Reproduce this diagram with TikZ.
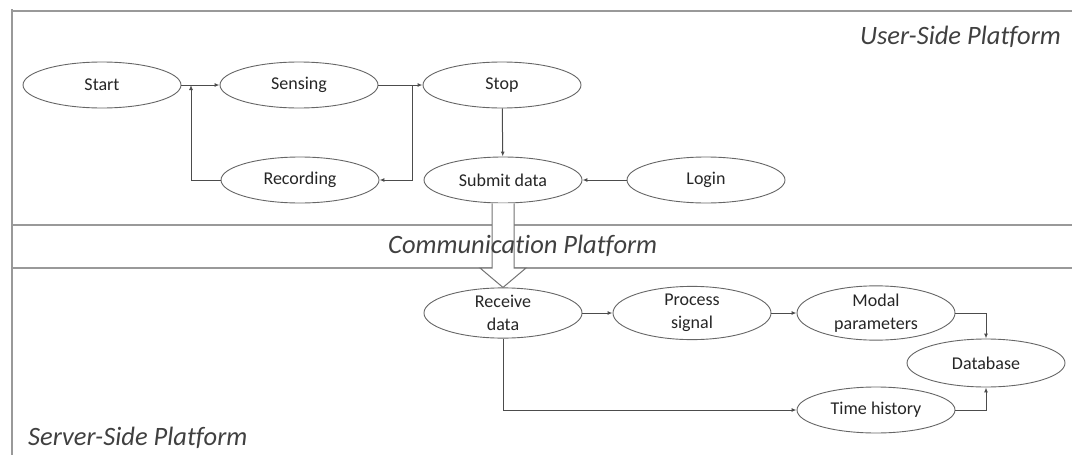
\documentclass[tikz,border=0pt]{standalone}
\usepackage{fontspec}
\setmainfont{Carlito}[Ligatures=NoCommon]
\usetikzlibrary{shapes.geometric,arrows.meta,calc}

\begin{document}
\begin{tikzpicture}[x=1pt, y=-1pt]
        \tikzstyle{stage}=[ellipse, draw=black!60, line width=0.9pt, fill=white, text=black!85, inner sep=0pt, minimum width=158pt, minimum height=46pt, align=center, font=\fontsize{18}{23}\selectfont]
        \tikzstyle{platform}=[inner sep=0pt, text=black!75, font=\fontsize{26.5}{30}\selectfont\itshape]
        \tikzstyle{frame}=[draw=black!40, line width=2.2pt]
        \tikzstyle{link}=[draw=black!70, line width=1pt, -{Latex[length=5pt,width=4pt]}]
        \tikzstyle{bigarrow}=[draw=black!55, line width=1pt, fill=white, line join=miter]

        \useasboundingbox (0,0) rectangle (1072,455);

% frame of the three platforms
        \draw[frame] (12,9) -- (12,455);
        \draw[frame] (11,11) -- (1072,11);
        \draw[frame] (12,225) -- (1072,225);
        \draw[frame] (12,268) -- (1072,268);
        \coordinate (commbot) at (0,268);

% user side
        \node[stage] (start) at (102,85) {Start};
        \node[stage] (sensing) at (299,85) {Sensing};
        \node[stage] (stop) at (502,85) {Stop};
        \node[stage] (recording) at (300,180) {Recording};
        \node[stage] (submit) at (503,180) {Submit data};
        \node[stage] (login) at (706,180) {Login};

        \coordinate (back) at (191,85);
        \coordinate (loop) at (412,85);

        \draw[link] (start) -- (sensing);
        \draw[link] (sensing) -- (stop);
        \draw[link] (loop) |- (recording);
        \draw[link] (recording) -| (back);
        \draw[link] (stop) -- (submit);
        \draw[link] (login) -- (submit);

% server side
        \node[stage] (receive) at (503,313) {Receive\\data};
        \node[stage] (process) at (692,313) {Process\\signal};
        \node[stage] (modal) at (876,313) {Modal\\parameters};
        \node[stage, minimum height=48pt] (database) at (986,363) {Database};
        \node[stage] (history) at (876,410) {Time history};

        \draw[link] (receive) -- (process);
        \draw[link] (process) -- (modal);
        \draw[link] (modal) -| (database);
        \draw[link] (receive) |- (history);
        \draw[link] (history) -| (database);

% data sent through the communication platform
        \draw[bigarrow] ($(submit.south)+(-11,0)$) -- ($(submit.south |- commbot)+(-11,0)$) -- ($(submit.south |- commbot)+(-23,0)$) -- (receive.north) -- ($(submit.south |- commbot)+(23,0)$) -- ($(submit.south |- commbot)+(11,0)$) -- ($(submit.south)+(11,0)$);

        \node[platform, anchor=base east] (userside) at (1061,45) {User-Side Platform};
        \node[platform, anchor=base west] (comm) at (388,253) {Communication Platform};
        \node[platform, anchor=base west] (serverside) at (28,445) {Server-Side Platform};

    \end{tikzpicture}
\end{document}
